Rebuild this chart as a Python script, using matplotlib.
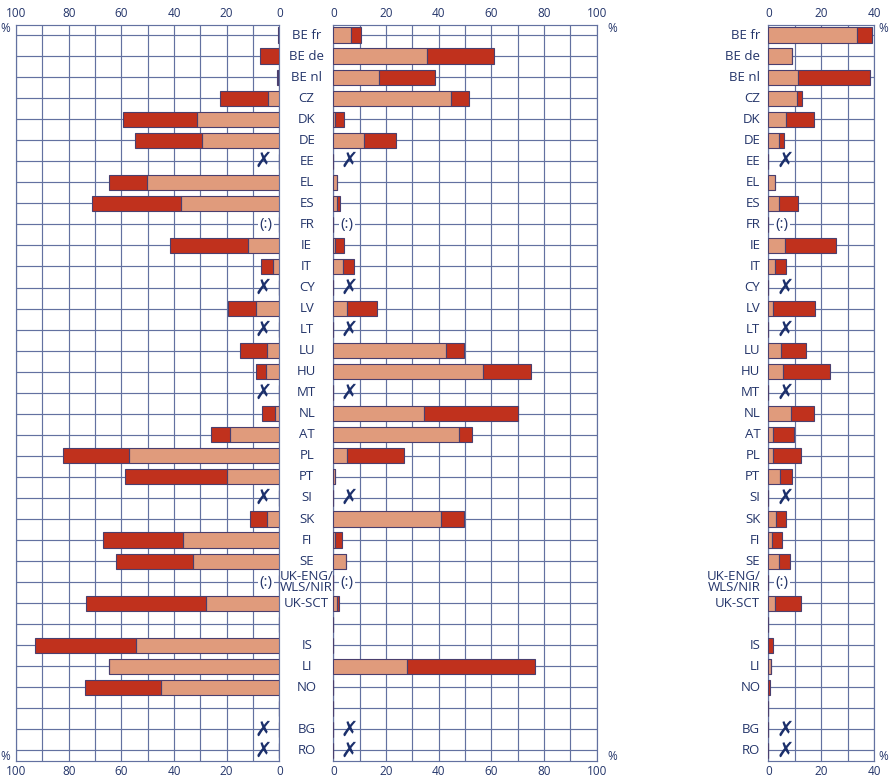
import numpy as np
import matplotlib
matplotlib.use("Agg")
import matplotlib.pyplot as plt
import matplotlib.transforms as mtrans

plt.rcParams['font.family'] = ['Open Sans', 'DejaVu Sans']

# rows, top to bottom ('' = empty spacer row)
countries = ['BE fr', 'BE de', 'BE nl', 'CZ', 'DK', 'DE', 'EE', 'EL', 'ES', 'FR',
             'IE', 'IT', 'CY', 'LV', 'LT', 'LU', 'HU', 'MT', 'NL', 'AT', 'PL', 'PT',
             'SI', 'SK', 'FI', 'SE', 'UK-ENG/\nWLS/NIR', 'UK-SCT', '', 'IS', 'LI', 'NO',
             '', 'BG', 'RO']
# status: 'x' = not applicable, ':' = not available, '' = data, '-' = blank row
status = ['', '', '', '', '', '', 'x', '', '', ':',
          '', '', 'x', '', 'x', '', '', 'x', '', '', '', '',
          'x', '', '', '', ':', '', '-', '', '', '',
          '-', 'x', 'x']

# left panel (reversed axis)
left_light = [0, 0, 0.5, 4.4, 31.4, 29.5, 0, 50.3, 37.4, 0,
              12.0, 2.5, 0, 8.7, 0, 4.8, 4.9, 0, 1.8, 18.6, 57.2, 20.0,
              0, 4.8, 36.7, 32.9, 0, 27.9, 0, 54.5, 64.7, 45.0,
              0, 0, 0]
left_dark = [0.4, 7.5, 0.5, 18.3, 27.8, 25.4, 0, 14.2, 33.9, 0,
             29.6, 4.6, 0, 10.9, 0, 10.2, 3.8, 0, 4.6, 7.4, 25.0, 38.5,
             0, 6.2, 30.4, 29.3, 0, 45.4, 0, 38.4, 0, 28.9,
             0, 0, 0]

# middle panel
mid_light = [6.8, 35.7, 17.5, 44.8, 0.5, 11.5, 0, 1.3, 1.3, 0,
             0.8, 3.8, 0, 5.1, 0, 42.7, 56.7, 0, 34.6, 47.6, 5.1, 0.8,
             0, 40.8, 0.5, 4.7, 0, 1.5, 0, 0, 28.1, 0,
             0, 0, 0]
mid_dark = [3.8, 25.2, 21.2, 6.6, 3.4, 12.3, 0, 0, 1.2, 0,
            3.3, 3.9, 0, 11.5, 0, 6.9, 18.2, 0, 35.4, 4.9, 21.6, 0,
            0, 8.8, 2.7, 0, 0, 0.8, 0, 0, 48.5, 0,
            0, 0, 0]

# right panel (0-40 scale)
right_light = [33.6, 9.1, 11.3, 10.9, 6.8, 4.2, 0, 2.6, 4.2, 0,
               6.4, 2.6, 0, 1.9, 0, 4.8, 5.7, 0, 8.6, 1.9, 1.9, 4.5,
               0, 3.0, 1.4, 4.2, 0, 2.6, 0, 0, 1.1, 0,
               0, 0, 0]
right_dark = [5.6, 0, 26.9, 1.7, 10.3, 1.7, 0, 0, 7.0, 0,
              19.3, 4.2, 0, 15.8, 0, 9.5, 17.7, 0, 8.6, 7.9, 10.6, 4.6,
              0, 3.7, 3.8, 4.1, 0, 9.6, 0, 1.9, 0, 0.8,
              0, 0, 0]

c_light = '#E09B7C'
c_dark = '#C0311D'
c_edge = '#4A3F6E'
c_grid = '#6371A0'
c_text = '#24356A'

n = len(countries)
y = np.arange(n)

W, H = 889, 778
fig = plt.figure(figsize=(W / 100, H / 100), dpi=100)

def px_axes(x0, x1):
    top, bot = 24.5, 761.0
    return fig.add_axes([x0 / W, 1 - bot / H, (x1 - x0) / W, (bot - top) / H])

ax_l = px_axes(16, 279.3)
ax_m = px_axes(333.3, 596.6)
ax_r = px_axes(768.3, 874.3)

def setup(ax, xmax, major, minor):
    ax.set_ylim(n - 0.5, -0.5)
    ax.set_xlim(0, xmax)
    ax.set_xticks(np.arange(0, xmax + 0.1, major))
    ax.set_xticks(np.arange(0, xmax + 0.1, minor), minor=True)
    ax.set_yticks(y)
    ax.set_yticklabels([])
    ax.tick_params(axis='both', which='both', length=0)
    ax.tick_params(axis='x', labeltop=True, labelbottom=True, labelsize=8.5,
                   labelcolor=c_text, pad=3)
    ax.grid(True, which='both', color=c_grid, linewidth=0.85)
    ax.set_axisbelow(True)
    for s in ax.spines.values():
        s.set_color(c_grid)
        s.set_linewidth(0.85)

setup(ax_l, 100, 20, 10)
ax_l.invert_xaxis()
setup(ax_m, 100, 20, 10)
setup(ax_r, 40, 20, 10)

bh = 0.72
for ax, light, dark in [(ax_l, left_light, left_dark),
                        (ax_m, mid_light, mid_dark),
                        (ax_r, right_light, right_dark)]:
    ax.barh(y, light, height=bh, color=c_light, edgecolor=c_edge, linewidth=0.8, zorder=3)
    ax.barh(y, dark, left=light, height=bh, color=c_dark, edgecolor=c_edge, linewidth=0.8, zorder=3)
    xpos = 6.4 if ax is ax_r else 6
    for i, st in enumerate(status):
        if st == 'x':
            ax.text(xpos, i, '\u2717', ha='center', va='center', fontsize=15,
                    fontweight='bold', color='#1B2F6B',
                    family=['DejaVu Sans'], zorder=4)
        elif st == ':':
            ax.text(5.1, i, '(:)', ha='center', va='center',
                    fontsize=11, color=c_text, zorder=4,
                    bbox=dict(boxstyle='square,pad=0.1', fc='white', ec='none'))

# category labels
tr_m = mtrans.blended_transform_factory(ax_m.transAxes, ax_m.transData)
tr_r = mtrans.blended_transform_factory(ax_r.transAxes, ax_r.transData)
for i, lab in enumerate(countries):
    if not lab:
        continue
    ax_m.text(-0.101, i, lab, transform=tr_m, ha='center', va='center',
              fontsize=9.5, color=c_text, linespacing=0.8)
    ax_r.text(-0.075, i, lab, transform=tr_r, ha='right', va='center',
              fontsize=9.5, color=c_text, linespacing=0.8)

# percent signs
for xp in [5, 612, 883]:
    fig.text(xp / W, 1 - 29 / H, '%', ha='center', va='center', fontsize=8.5, color=c_text)
    fig.text(xp / W, 1 - 756 / H, '%', ha='center', va='center', fontsize=8.5, color=c_text)

fig.savefig('out.png', dpi=100)
